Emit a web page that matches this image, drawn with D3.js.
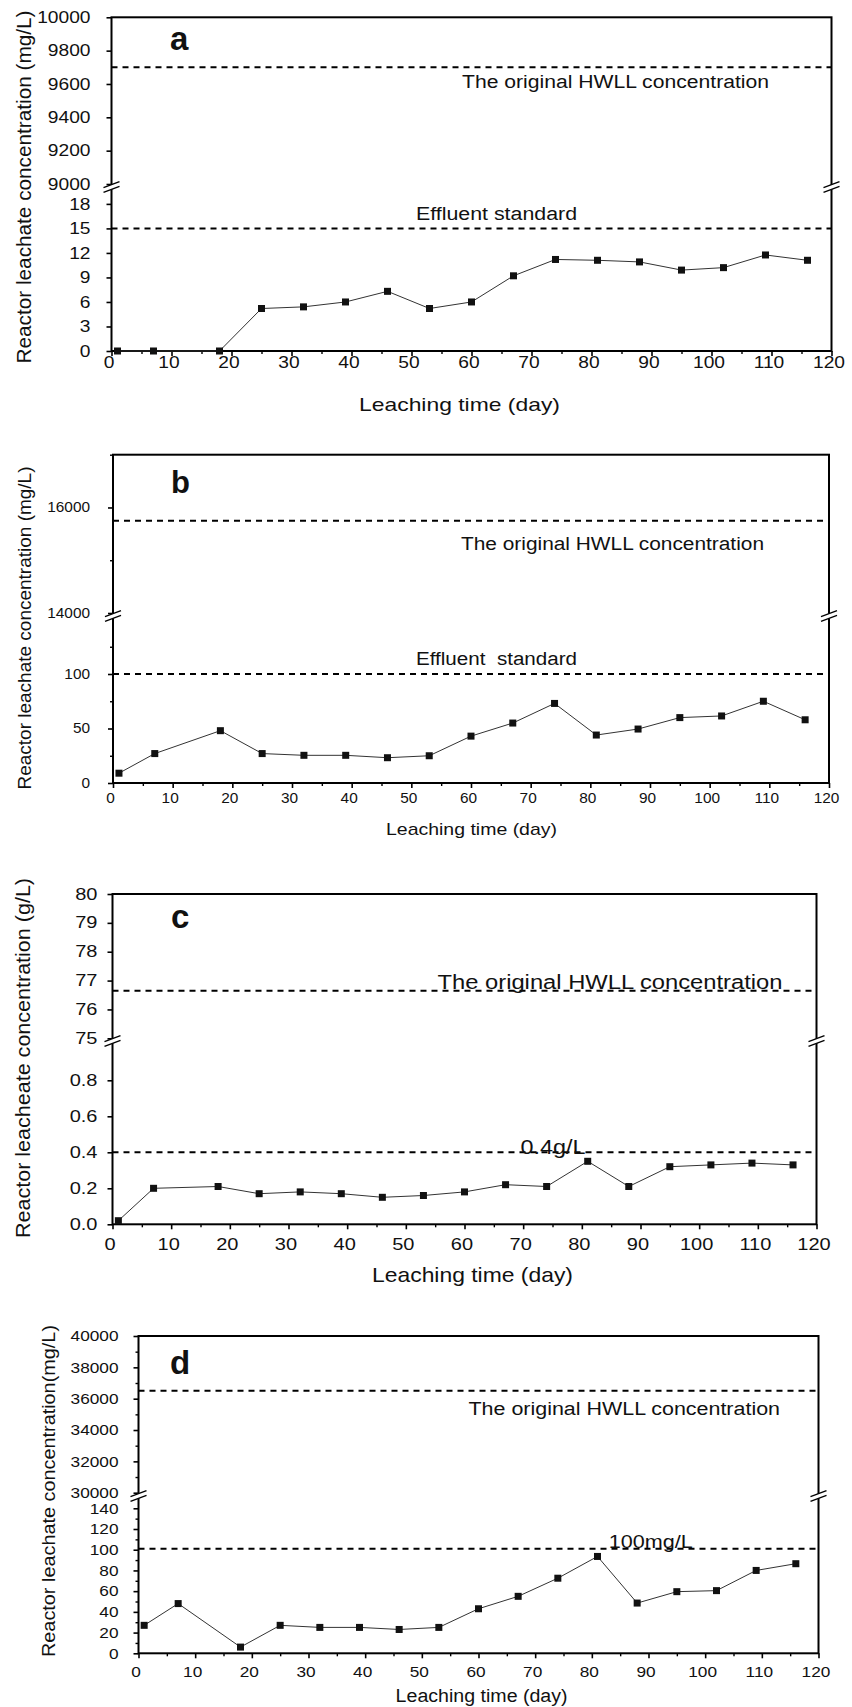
<!DOCTYPE html>
<meta charset="utf-8">
<head>
<style>
 body { margin: 0; background: #fff; }
 svg text { font-family: "Liberation Sans", Arial, sans-serif; fill: #111; }
</style>
</head>
<body>
<script src="https://d3js.org/d3.v7.min.js"></script>
<script>
 // sampling days, shared by all four panels
 const days = [1, 7, 18, 25, 32, 39, 46, 53, 60, 67, 74, 81, 88, 95, 102, 109, 116];

 // reactor leachate concentration per panel
 const concA = [0, 0, 0, 5.2, 5.4, 6.0, 7.3, 5.2, 6.0, 9.2, 11.2, 11.1, 10.9, 9.9, 10.2, 11.75, 11.1];
 const concB = [9, 27, 48, 27, 25.4, 25.4, 23.2, 25, 43, 55, 73, 44, 49.5, 60, 61.5, 75, 58];
 const concC = [0.02, 0.20, 0.21, 0.17, 0.18, 0.17, 0.15, 0.16, 0.18, 0.22, 0.21, 0.35, 0.21, 0.32, 0.33, 0.34, 0.33];
 const concD = [27, 48, 6, 27, 25, 25, 23, 25, 43, 55, 72.5, 93.5, 48.5, 59.5, 60.5, 80, 86.5];

 // reference lines: original HWLL concentration and discharge limit
 const hwllLevels = [9700, 15750, 76.65, 36500];
 const limitLevels = [15, 100, 0.4, 101];

 // axis ticks
 const xTicks = [0, 10, 20, 30, 40, 50, 60, 70, 80, 90, 100, 110, 120];
 const xMinor = [5, 15, 25, 35, 45, 55, 65, 75, 85, 95, 105, 115];
 const upTicksA = [9000, 9200, 9400, 9600, 9800, 10000];
 const lowTicksA = [0, 3, 6, 9, 12, 15, 18];
 const upTicksB = [14000, 16000];
 const upMinorB = [15000, 17000];
 const lowTicksB = [0, 50, 100];
 const lowMinorB = [25, 75, 125];
 const upTicksC = [75, 76, 77, 78, 79, 80];
 const lowTicksC = [0, 0.2, 0.4, 0.6, 0.8];
 const upTicksD = [30000, 32000, 34000, 36000, 38000, 40000];
 const upMinorD = [31000, 33000, 35000, 37000, 39000];
 const lowTicksD = [0, 20, 40, 60, 80, 100, 120, 140];
 const lowMinorD = [10, 30, 50, 70, 90, 110, 130];

 // texts
 const letters = ["a", "b", "c", "d"];
 const yTitles = ["Reactor leachate concentration (mg/L)", "Reactor leachate concentration (mg/L)",
                  "Reactor leacheate concentration (g/L)", "Reactor leachate concentration(mg/L)"];
 const limitNames = ["Effluent standard", "Effluent  standard", "0.4g/L", "100mg/L"];
 const hwllName = "The original HWLL concentration";
 const xTitle = "Leaching time (day)";

 const svg = d3.select("body").append("svg")
               .attr("width", 852)
               .attr("height", 1707);

 // layout of each panel (pixels)
 const panels = [
     { values: concA, x0: 111.5, x1: 831.5,
       upDom: [9000, 10000], upRng: [184, 17.3], upTicks: upTicksA, upMinor: [],
       lowDom: [0, 19.7], lowRng: [351, 190], lowTicks: lowTicksA, lowMinor: [],
       brk: 187, tickFont: 16, tickK: 1.2, yGap: 21, xGap: 6, fmtLow: d3.format("d"),
       hwll: [462, 88, 307, 18], lim: [416, 220, 161, 18], xt: [359, 411, 201, 19],
       yt: [24, 187, 353, 20], let: [170, 50, 33] },
     { values: concB, x0: 113, x1: 829,
       upDom: [14000, 17000], upRng: [613, 454.7], upTicks: upTicksB, upMinor: upMinorB,
       lowDom: [0, 150], lowRng: [783, 619.5], lowTicks: lowTicksB, lowMinor: lowMinorB,
       brk: 616, tickFont: 14, tickK: 1.1, yGap: 23, xGap: 10, fmtLow: d3.format("d"),
       hwll: [461, 550, 303, 18], lim: [416, 665, 161, 18], xt: [386, 835, 171, 17],
       yt: [24, 628, 323, 19], let: [171, 493, 31] },
     { values: concC, x0: 112.5, x1: 816.5,
       upDom: [75, 80], upRng: [1038.3, 894], upTicks: upTicksC, upMinor: [],
       lowDom: [0, 1.0], lowRng: [1224.3, 1044.3], lowTicks: lowTicksC, lowMinor: [],
       brk: 1041, tickFont: 16, tickK: 1.25, yGap: 15, xGap: 14, fmtLow: d3.format(".1f"),
       hwll: [437.5, 989, 345, 20], lim: [520.6, 1154, 65, 20], xt: [372, 1282, 201, 21],
       yt: [23, 1058, 360, 20], let: [171, 928, 33] },
     { values: concD, x0: 138.5, x1: 818.5,
       upDom: [30000, 40000], upRng: [1492.7, 1336], upTicks: upTicksD, upMinor: upMinorD,
       lowDom: [0, 148], lowRng: [1653.3, 1500], lowTicks: lowTicksD, lowMinor: lowMinorD,
       brk: 1496, tickFont: 15, tickK: 1.15, yGap: 20, xGap: 13, fmtLow: d3.format("d"),
       hwll: [468.5, 1415, 311.5, 18], lim: [608.7, 1547.5, 84, 18], xt: [395.6, 1701.5, 172, 18],
       yt: [49, 1491, 332, 18], let: [170, 1374, 33] }
 ];

 function fitText(g, spec, str) {
     return g.append("text")
             .attr("x", spec[0])
             .attr("y", spec[1])
             .attr("textLength", spec[2])
             .attr("lengthAdjust", "spacingAndGlyphs")
             .style("font-size", spec[3] + "px")
             .text(str);
 }

 function breakMark(g, ax, by) {
     const s = 2.4;
     g.append("polygon")
      .attr("points", `${ax - 8},${by + 3 + s} ${ax + 8},${by - 3 + s} ${ax + 8},${by - 3 - s} ${ax - 8},${by + 3 - s}`)
      .attr("fill", "#fff");
     [-s, s].forEach(o => {
         g.append("line")
          .attr("x1", ax - 8).attr("y1", by + 3 + o)
          .attr("x2", ax + 8).attr("y2", by - 3 + o)
          .attr("stroke", "#000")
          .attr("stroke-width", 1.3);
     });
 }

 function leftAxis(g, p, scale, ticks, minor, fmt) {
     const pad = p.yGap / p.tickK - 5;
     const ax = g.append("g")
                 .attr("transform", `translate(${p.x0},0)`)
                 .call(d3.axisLeft(scale).tickValues(ticks).tickSize(5).tickPadding(pad).tickFormat(fmt));
     ax.select(".domain").remove();
     ax.selectAll("line").attr("stroke-width", 1.6);
     ax.selectAll("text")
       .style("font-size", p.tickFont + "px")
       .style("font-family", '"Liberation Sans", Arial, sans-serif')
       .attr("fill", "#111")
       .attr("transform", `scale(${p.tickK},1)`);
     if (minor.length) {
         const mn = g.append("g")
                     .attr("transform", `translate(${p.x0},0)`)
                     .call(d3.axisLeft(scale).tickValues(minor).tickSize(3).tickFormat(""));
         mn.select(".domain").remove();
         mn.selectAll("line").attr("stroke-width", 1.4);
     }
 }

 panels.forEach((p, i) => {
     const g = svg.append("g");
     const x = d3.scaleLinear().domain([0, 120]).range([p.x0, p.x1]);
     const yUp = d3.scaleLinear().domain(p.upDom).range(p.upRng);
     const yLow = d3.scaleLinear().domain(p.lowDom).range(p.lowRng);

     // x axis
     const xa = g.append("g")
                 .attr("transform", `translate(0,${p.lowRng[0]})`)
                 .call(d3.axisBottom(x).tickValues(xTicks).tickSize(5).tickPadding(p.xGap - 5).tickFormat(d3.format("d")));
     xa.select(".domain").remove();
     xa.selectAll("line").attr("stroke-width", 1.6);
     xa.selectAll("text")
       .style("font-size", p.tickFont + "px")
       .style("font-family", '"Liberation Sans", Arial, sans-serif')
       .attr("fill", "#111")
       .attr("transform", `translate(-3,0) scale(${p.tickK},1)`);
     const xm = g.append("g")
                 .attr("transform", `translate(0,${p.lowRng[0]})`)
                 .call(d3.axisBottom(x).tickValues(xMinor).tickSize(3).tickFormat(""));
     xm.select(".domain").remove();
     xm.selectAll("line").attr("stroke-width", 1.4);

     // y axes (upper and lower segment)
     leftAxis(g, p, yUp, p.upTicks, p.upMinor, d3.format("d"));
     leftAxis(g, p, yLow, p.lowTicks, p.lowMinor, p.fmtLow);

     // frame
     g.append("rect")
      .attr("x", p.x0)
      .attr("y", p.upRng[1])
      .attr("width", p.x1 - p.x0)
      .attr("height", p.lowRng[0] - p.upRng[1])
      .attr("fill", "none")
      .attr("stroke", "#000")
      .attr("stroke-width", 2);

     breakMark(g, p.x0, p.brk);
     breakMark(g, p.x1, p.brk);

     // reference lines
     [yUp(hwllLevels[i]), yLow(limitLevels[i])].forEach(yy => {
         g.append("line")
          .attr("x1", p.x0).attr("x2", p.x1)
          .attr("y1", yy).attr("y2", yy)
          .attr("stroke", "#000")
          .attr("stroke-width", 2)
          .attr("stroke-dasharray", "6,5");
     });

     // data series
     const pts = days.map((d, j) => [d, p.values[j]]);
     g.append("path")
      .datum(pts)
      .attr("fill", "none")
      .attr("stroke", "#333")
      .attr("stroke-width", 1)
      .attr("d", d3.line().x(d => x(d[0])).y(d => yLow(d[1])));
     g.selectAll("rect.pt")
      .data(pts)
      .join("rect")
      .attr("class", "pt")
      .attr("x", d => x(d[0]) - 3.5)
      .attr("y", d => yLow(d[1]) - 3.5)
      .attr("width", 7)
      .attr("height", 7)
      .attr("fill", "#111");

     // texts
     fitText(g, p.hwll, hwllName);
     fitText(g, p.lim, limitNames[i]).style("white-space", "pre");
     fitText(g, p.xt, xTitle);
     g.append("text")
      .attr("transform", `translate(${p.yt[0]},${p.yt[1]}) rotate(-90)`)
      .attr("text-anchor", "middle")
      .attr("dy", "0.35em")
      .attr("textLength", p.yt[2])
      .attr("lengthAdjust", "spacingAndGlyphs")
      .style("font-size", p.yt[3] + "px")
      .text(yTitles[i]);
     g.append("text")
      .attr("x", p.let[0])
      .attr("y", p.let[1])
      .style("font-size", p.let[2] + "px")
      .style("font-weight", "bold")
      .text(letters[i]);
 });
</script>
</body>
